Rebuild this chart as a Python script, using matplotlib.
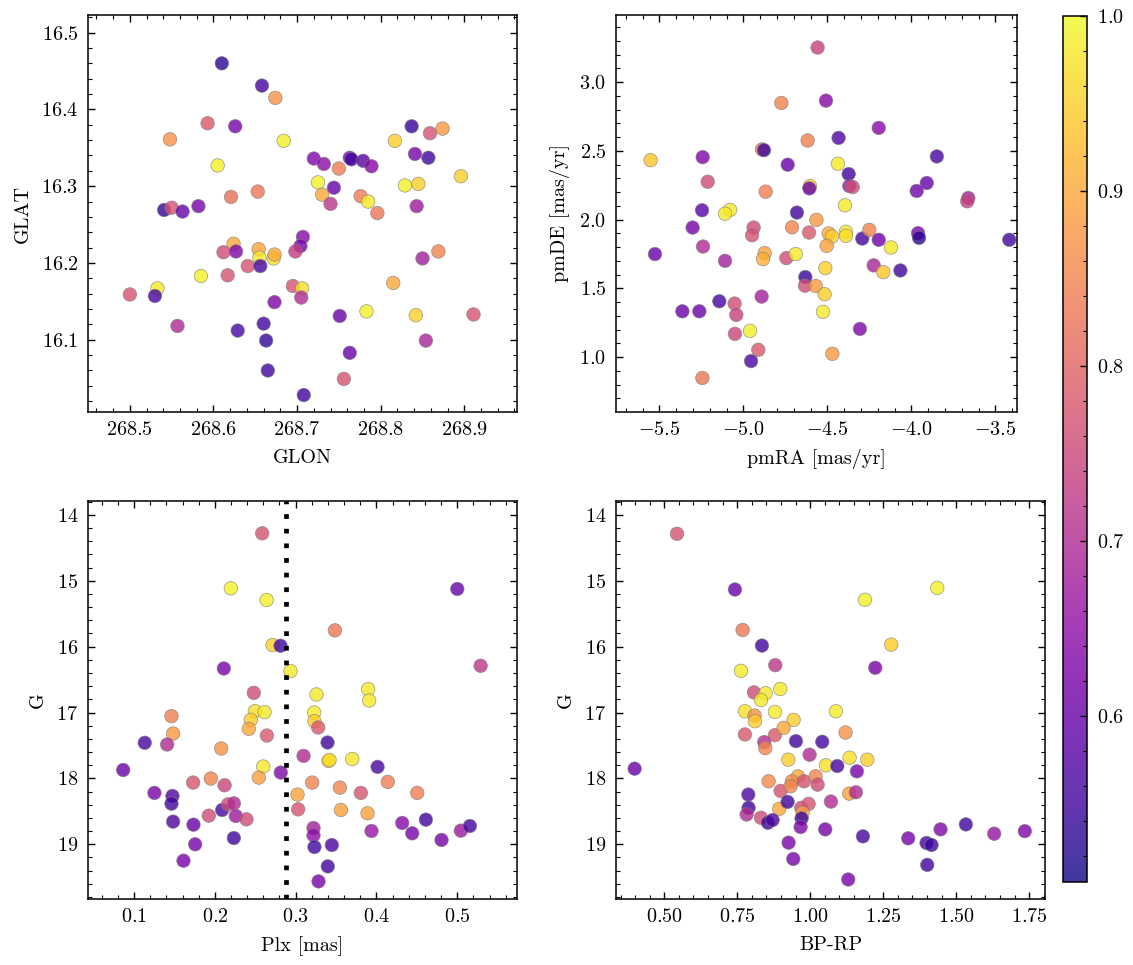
import matplotlib
matplotlib.use("Agg")
import matplotlib.pyplot as plt
from matplotlib.ticker import AutoMinorLocator

# --- data ---
# sky positions
glon = [268.610, 268.658, 268.674, 268.593, 268.626, 268.548, 268.684, 268.605, 268.837, 268.859,
        268.874, 268.817, 268.841, 268.857, 268.720, 268.732, 268.750, 268.763, 268.765, 268.779,
        268.789, 268.896, 268.725, 268.744, 268.730, 268.740, 268.776, 268.785, 268.796, 268.829,
        268.845, 268.843, 268.621, 268.653, 268.541, 268.550, 268.563, 268.582, 268.707, 268.704,
        268.698, 268.624, 268.612, 268.627, 268.654, 268.655, 268.672, 268.673, 268.641, 268.656,
        268.850, 268.869, 268.585, 268.617, 268.533, 268.530, 268.500, 268.695, 268.706, 268.705,
        268.673, 268.815, 268.557, 268.629, 268.660, 268.663, 268.665, 268.708, 268.751, 268.763,
        268.756, 268.783, 268.842, 268.854, 268.911]
glat = [16.460, 16.431, 16.415, 16.382, 16.378, 16.361, 16.359, 16.327, 16.378, 16.369,
        16.375, 16.359, 16.342, 16.337, 16.336, 16.329, 16.323, 16.337, 16.335, 16.333,
        16.326, 16.313, 16.305, 16.298, 16.289, 16.277, 16.287, 16.280, 16.265, 16.301,
        16.303, 16.274, 16.286, 16.293, 16.269, 16.272, 16.267, 16.274, 16.234, 16.222,
        16.215, 16.225, 16.214, 16.215, 16.218, 16.207, 16.206, 16.211, 16.196, 16.196,
        16.206, 16.215, 16.183, 16.184, 16.167, 16.157, 16.159, 16.170, 16.167, 16.155,
        16.149, 16.174, 16.118, 16.112, 16.121, 16.099, 16.060, 16.028, 16.131, 16.083,
        16.049, 16.137, 16.132, 16.099, 16.133]
p_sky = [0.53, 0.56, 0.87, 0.78, 0.62, 0.87, 0.99, 0.99, 0.54, 0.77,
         0.88, 0.95, 0.62, 0.55, 0.63, 0.65, 0.84, 0.62, 0.55, 0.58,
         0.64, 0.95, 0.99, 0.60, 0.90, 0.72, 0.84, 0.98, 0.83, 0.99,
         0.95, 0.67, 0.82, 0.83, 0.54, 0.77, 0.60, 0.62, 0.64, 0.62,
         0.73, 0.90, 0.76, 0.63, 0.89, 0.98, 0.97, 0.90, 0.77, 0.56,
         0.68, 0.85, 0.99, 0.77, 0.98, 0.56, 0.77, 0.77, 0.97, 0.70,
         0.63, 0.90, 0.70, 0.56, 0.55, 0.54, 0.55, 0.55, 0.60, 0.60,
         0.77, 0.99, 0.95, 0.69, 0.77]

# proper motions
pmra = [-4.558, -4.774, -4.508, -4.194, -4.433, -4.617, -5.552, -5.242, -4.889, -4.877,
        -3.848, -4.736, -4.437, -4.373, -5.212, -3.908, -3.968, -4.603, -4.607, -4.867,
        -4.369, -4.349, -3.661, -3.667, -5.246, -5.079, -5.109, -4.681, -4.395, -5.302,
        -4.939, -4.948, -4.710, -4.565, -4.609, -4.492, -4.472, -4.504, -4.389, -4.389,
        -4.292, -4.250, -4.194, -4.121, -3.960, -3.954, -3.417, -5.526, -5.240, -5.109,
        -4.873, -4.883, -4.744, -4.688, -4.512, -4.224, -4.167, -4.065, -4.631, -4.633,
        -4.569, -4.516, -4.891, -5.143, -5.363, -5.262, -5.052, -5.042, -4.526, -5.050,
        -4.960, -4.306, -4.911, -4.954, -4.470, -5.244]
pmde = [3.251, 2.848, 2.865, 2.667, 2.594, 2.575, 2.432, 2.454, 2.510, 2.505,
        2.459, 2.399, 2.406, 2.331, 2.275, 2.266, 2.208, 2.244, 2.227, 2.203,
        2.244, 2.237, 2.157, 2.133, 2.068, 2.070, 2.043, 2.051, 2.104, 1.942,
        1.942, 1.886, 1.944, 1.998, 1.906, 1.899, 1.877, 1.809, 1.911, 1.882,
        1.862, 1.925, 1.853, 1.797, 1.901, 1.867, 1.853, 1.749, 1.804, 1.700,
        1.756, 1.713, 1.720, 1.749, 1.647, 1.667, 1.618, 1.630, 1.582, 1.519,
        1.517, 1.457, 1.440, 1.406, 1.333, 1.333, 1.389, 1.307, 1.329, 1.169,
        1.191, 1.205, 1.053, 0.971, 1.024, 0.848]
p_pm = [0.74, 0.85, 0.64, 0.64, 0.57, 0.84, 0.94, 0.63, 0.84, 0.55,
        0.56, 0.60, 0.98, 0.55, 0.76, 0.60, 0.61, 0.96, 0.60, 0.84,
        0.66, 0.76, 0.68, 0.74, 0.58, 0.98, 0.98, 0.55, 0.98, 0.62,
        0.76, 0.77, 0.85, 0.88, 0.78, 0.90, 0.95, 0.89, 0.98, 0.97,
        0.55, 0.85, 0.61, 0.98, 0.61, 0.53, 0.55, 0.60, 0.70, 0.68,
        0.89, 0.91, 0.76, 0.98, 0.95, 0.69, 0.94, 0.55, 0.54, 0.76,
        0.88, 0.95, 0.68, 0.56, 0.60, 0.60, 0.76, 0.74, 0.98, 0.75,
        0.99, 0.63, 0.78, 0.56, 0.88, 0.83]

# parallax vs G
plx = [0.2586, 0.2198, 0.2640, 0.5001, 0.3486, 0.2714, 0.2813, 0.2937, 0.5290, 0.2111,
       0.2482, 0.3258, 0.3898, 0.3910, 0.2495, 0.2615, 0.2445, 0.2420, 0.2644, 0.3229,
       0.3233, 0.3279, 0.1463, 0.1483, 0.1132, 0.1409, 0.2078, 0.3395, 0.3098, 0.3407,
       0.3420, 0.3700, 0.0865, 0.2598, 0.2544, 0.2816, 0.4014, 0.1731, 0.1950, 0.2120,
       0.3205, 0.3023, 0.3547, 0.3807, 0.4141, 0.4505, 0.1252, 0.1475, 0.1463, 0.3031,
       0.3560, 0.3890, 0.1925, 0.2090, 0.2164, 0.2235, 0.2259, 0.2391, 0.1483, 0.1735,
       0.2235, 0.1756, 0.1612, 0.3221, 0.3221, 0.3233, 0.3448, 0.3398, 0.3283, 0.3939,
       0.4319, 0.4443, 0.4612, 0.4806, 0.5045, 0.5157]
g_plx = [14.28, 15.115, 15.292, 15.125, 15.753, 15.976, 15.986, 16.371, 16.290, 16.331,
         16.701, 16.726, 16.645, 16.817, 16.979, 16.994, 17.111, 17.248, 17.349, 17.000,
         17.131, 17.227, 17.055, 17.319, 17.459, 17.485, 17.546, 17.455, 17.658, 17.734,
         17.720, 17.705, 17.872, 17.820, 17.987, 17.911, 17.825, 18.063, 18.002, 18.104,
         18.063, 18.245, 18.139, 18.220, 18.053, 18.220, 18.220, 18.266, 18.383, 18.469,
         18.479, 18.529, 18.565, 18.479, 18.393, 18.378, 18.570, 18.621, 18.656, 18.702,
         18.905, 19.000, 19.249, 18.752, 18.864, 19.041, 19.011, 19.335, 19.563, 18.798,
         18.676, 18.833, 18.626, 18.934, 18.793, 18.722]
p_plx = [0.77, 0.99, 0.99, 0.60, 0.83, 0.95, 0.55, 0.98, 0.72, 0.62,
         0.76, 0.98, 0.98, 0.98, 0.97, 0.98, 0.95, 0.90, 0.78, 0.98,
         0.95, 0.78, 0.84, 0.88, 0.56, 0.70, 0.87, 0.55, 0.70, 0.95,
         0.97, 0.98, 0.60, 0.98, 0.89, 0.63, 0.56, 0.77, 0.85, 0.75,
         0.85, 0.89, 0.85, 0.77, 0.84, 0.84, 0.62, 0.57, 0.55, 0.77,
         0.89, 0.89, 0.76, 0.56, 0.76, 0.70, 0.67, 0.76, 0.57, 0.60,
         0.55, 0.62, 0.62, 0.68, 0.65, 0.55, 0.57, 0.55, 0.62, 0.66,
         0.64, 0.62, 0.55, 0.62, 0.67, 0.55]
plx_cut = 0.2875

# colour-magnitude diagram
bp_rp = [0.5434, 0.7420, 1.1872, 1.4349, 0.7683, 0.8345, 1.2774, 0.7626, 0.8801, 1.2226,
         0.8071, 0.8470, 0.8311, 0.8973, 0.7763, 0.8790, 0.8094, 0.8105, 0.9429, 1.0879,
         0.8790, 0.9087, 0.7763, 1.1210, 0.8425, 0.8459, 0.9509, 1.0411, 0.9977, 0.9247,
         1.0537, 1.0925, 1.1347, 1.1952, 1.1598, 0.3984, 0.8573, 0.9578, 0.9372, 0.9783,
         1.0183, 1.0251, 0.8984, 0.9326, 1.1336, 1.1564, 0.7877, 0.7888, 0.7820, 0.8938,
         0.9224, 0.8311, 0.8550, 0.8710, 0.9692, 0.9943, 0.9737, 0.9703, 0.9669, 1.0708,
         1.0514, 1.1804, 0.9258, 0.9418, 1.1301, 1.3356, 1.3984, 1.4155, 1.4007, 1.4463,
         1.5331, 1.6301, 1.7350]
g_cmd = [14.287, 15.133, 15.289, 15.108, 15.747, 15.984, 15.969, 16.367, 16.281, 16.321,
         16.694, 16.709, 16.810, 16.643, 16.981, 16.991, 17.046, 17.132, 17.112, 16.981,
         17.343, 17.233, 17.333, 17.303, 17.449, 17.540, 17.434, 17.444, 17.640, 17.716,
         17.802, 17.812, 17.686, 17.716, 17.892, 17.852, 18.043, 17.968, 18.043, 18.043,
         17.968, 18.094, 18.189, 18.119, 18.230, 18.210, 18.245, 18.446, 18.547, 18.461,
         18.356, 18.597, 18.673, 18.632, 18.446, 18.386, 18.522, 18.607, 18.738, 18.351,
         18.773, 18.879, 18.975, 19.222, 19.534, 18.909, 18.980, 19.010, 19.312, 18.773,
         18.698, 18.839, 18.800]
p_cmd = [0.77, 0.60, 0.99, 0.99, 0.83, 0.55, 0.95, 0.98, 0.72, 0.62,
         0.76, 0.98, 0.98, 0.98, 0.97, 0.98, 0.87, 0.95, 0.95, 0.98,
         0.78, 0.90, 0.78, 0.87, 0.70, 0.85, 0.55, 0.56, 0.70, 0.95,
         0.97, 0.56, 0.97, 0.95, 0.62, 0.60, 0.86, 0.90, 0.86, 0.77,
         0.85, 0.76, 0.77, 0.85, 0.89, 0.70, 0.57, 0.55, 0.70, 0.90,
         0.55, 0.76, 0.55, 0.56, 0.76, 0.77, 0.89, 0.54, 0.63, 0.70,
         0.62, 0.55, 0.62, 0.62, 0.62, 0.62, 0.55, 0.55, 0.55, 0.63,
         0.55, 0.66, 0.63]

p_min, p_max = 0.505, 1.0

# --- science-style look ---
plt.rcParams.update({
    "font.family": "serif",
    "font.serif": ["cmr10"],
    "mathtext.fontset": "cm",
    "axes.formatter.use_mathtext": True,
    "font.size": 14.5,
    "axes.linewidth": 1.1,
    "axes.labelpad": 7,
    "xtick.direction": "in", "ytick.direction": "in",
    "xtick.top": True, "ytick.right": True,
    "xtick.major.size": 5, "ytick.major.size": 5,
    "xtick.minor.size": 2.6, "ytick.minor.size": 2.6,
    "xtick.major.width": 1.0, "ytick.major.width": 1.0,
    "xtick.minor.width": 0.8, "ytick.minor.width": 0.8,
    "xtick.major.pad": 6.5, "ytick.major.pad": 7,
    "xtick.minor.visible": True, "ytick.minor.visible": True,
})

fig = plt.figure(figsize=(11.33, 9.65), dpi=100)
ax1 = fig.add_axes([0.0777, 0.5731, 0.3786, 0.4114])
ax2 = fig.add_axes([0.5437, 0.5731, 0.3539, 0.4114])
ax3 = fig.add_axes([0.0777, 0.0684, 0.3786, 0.4124])
ax4 = fig.add_axes([0.5437, 0.0684, 0.3786, 0.4124])
cax = fig.add_axes([0.9382, 0.0860, 0.0212, 0.8974])

kw = dict(cmap="plasma", vmin=p_min, vmax=p_max, s=95, alpha=0.8,
          edgecolors="gray", linewidths=0.5)

sc = ax1.scatter(glon, glat, c=p_sky, **kw)
ax1.set_xlabel("GLON")
ax1.set_ylabel("GLAT")
ax1.set_xlim(268.450, 268.963)
ax1.set_ylim(16.006, 16.523)

ax2.scatter(pmra, pmde, c=p_pm, **kw)
ax2.set_xlabel("pmRA [mas/yr]")
ax2.set_ylabel("pmDE [mas/yr]")
ax2.set_xlim(-5.758, -3.371)
ax2.set_ylim(0.601, 3.488)

ax3.scatter(plx, g_plx, c=p_plx, **kw)
ax3.axvline(plx_cut, color="k", lw=3.4, linestyle=(0, (1, 2.1)))
ax3.set_xlabel("Plx [mas]")
ax3.set_ylabel("G")
ax3.set_xlim(0.043, 0.574)
ax3.set_ylim(19.83, 13.79)

ax4.scatter(bp_rp, g_cmd, c=p_cmd, **kw)
ax4.set_xlabel("BP-RP")
ax4.set_ylabel("G")
ax4.set_xlim(0.3346, 1.804)
ax4.set_ylim(19.83, 13.79)

for ax in (ax1, ax2, ax3, ax4):
    ax.xaxis.set_minor_locator(AutoMinorLocator(5))
    ax.yaxis.set_minor_locator(AutoMinorLocator(5))

cb = fig.colorbar(sc, cax=cax)
cb.set_ticks([0.6, 0.7, 0.8, 0.9, 1.0])
cb.ax.yaxis.set_minor_locator(AutoMinorLocator(5))
cb.ax.tick_params(which="both", direction="in")
cb.outline.set_linewidth(1.1)

plt.savefig("out.png", dpi=100)
plt.close()
